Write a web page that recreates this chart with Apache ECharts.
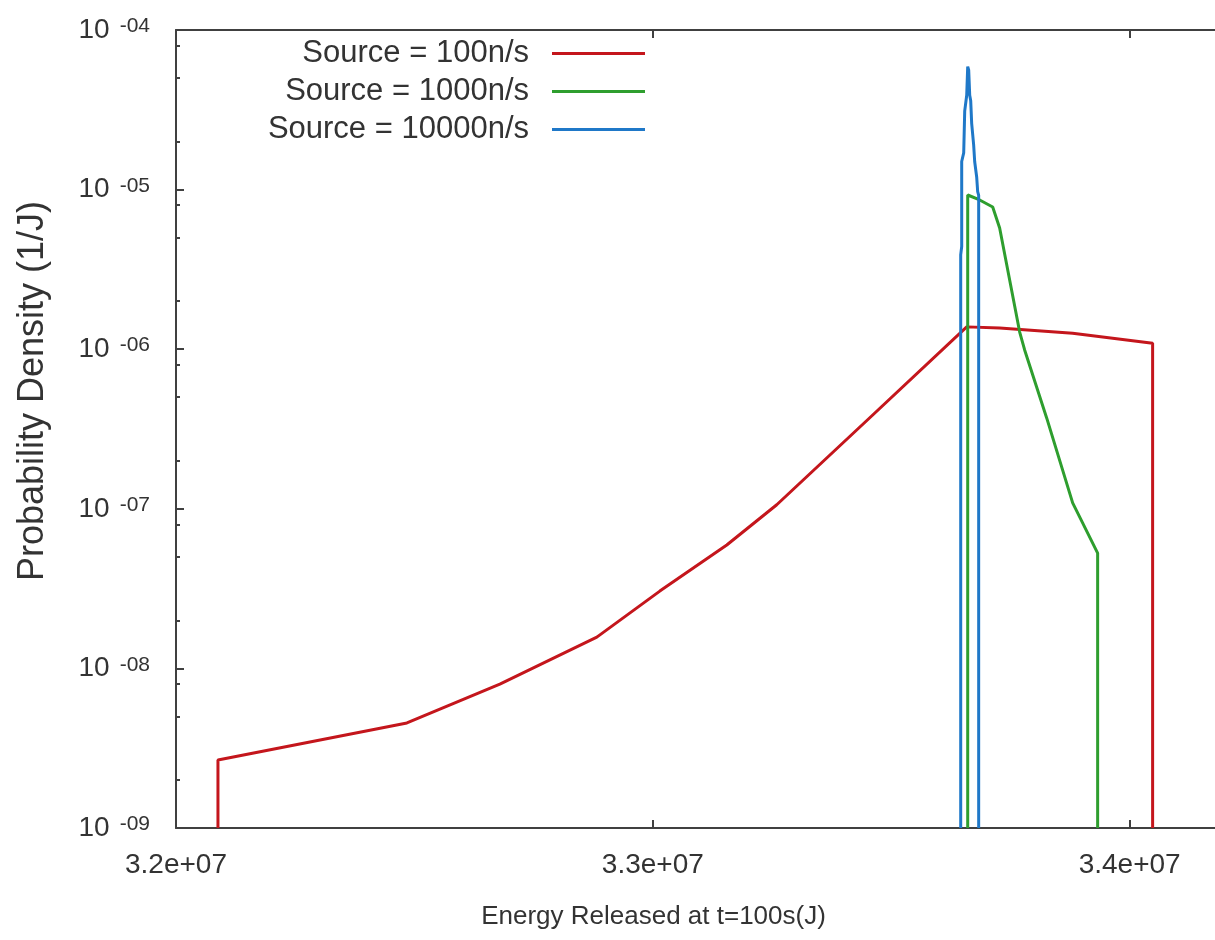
<!DOCTYPE html>
<html>
<head>
<meta charset="utf-8">
<script src="https://cdn.jsdelivr.net/npm/echarts@6/dist/echarts.min.js"></script>
<style>
  html, body { margin: 0; padding: 0; background: #ffffff; }
  #chart { width: 1215px; height: 940px; }
</style>
</head>
<body>
<div id="chart"></div>
<script>
// Probability density of the energy released at t = 100 s for three source strengths.
const seriesNames = ['Source = 100n/s', 'Source = 1000n/s', 'Source = 10000n/s'];

const energy100 = [3.2088e7, 3.2088e7, 3.24843e7, 3.26792e7, 3.28826e7, 3.30147e7, 3.31551e7, 3.32599e7, 3.34612e7, 3.36583e7, 3.37274e7, 3.38805e7, 3.40482e7, 3.40482e7];
const density100 = [1e-9, 2.67e-9, 4.55e-9, 7.98e-9, 1.57e-8, 3.05e-8, 5.93e-8, 1.06e-7, 3.87e-7, 1.38e-6, 1.36e-6, 1.26e-6, 1.09e-6, 1e-9];

const energy1000 = [3.36604e7, 3.36604e7, 3.36855e7, 3.37128e7, 3.37274e7, 3.37694e7, 3.37798e7, 3.3826e7, 3.38805e7, 3.39329e7, 3.39329e7];
const density1000 = [1e-9, 9.25e-6, 8.61e-6, 7.78e-6, 5.74e-6, 1.28e-6, 9.89e-7, 3.71e-7, 1.09e-7, 5.28e-8, 1e-9];

const energy10000 = [3.36457e7, 3.36457e7, 3.36478e7, 3.36478e7, 3.36520e7, 3.36541e7, 3.36583e7, 3.36604e7, 3.36625e7, 3.36646e7, 3.36667e7, 3.36687e7, 3.36729e7, 3.36750e7, 3.36792e7, 3.36813e7, 3.36834e7, 3.36834e7];
const density10000 = [1e-9, 3.9e-6, 4.4e-6, 1.5e-5, 1.7e-5, 3.1e-5, 3.9e-5, 5.9e-5, 5.6e-5, 3.9e-5, 3.6e-5, 2.6e-5, 1.9e-5, 1.5e-5, 1.2e-5, 9.7e-6, 9.2e-6, 1e-9];

const xMin = 3.2e7, xMax = 3.42e7, xStep = 1e6;
const yMin = 1e-9, yMax = 1e-4;
const minorMantissas = [2, 5, 8];

const colors = ['#c4161c', '#2e9e2e', '#1f78c8'];
const axisColor = '#404040';
const textColor = '#333333';
const fontFamily = "'Liberation Sans', Arial, sans-serif";

function pairs(xs, ys) { return xs.map((x, i) => [x, ys[i]]); }

// minor tick positions inside every decade of the log axis
const minorTicks = [];
for (let e = -9; e < -4; e++) {
  minorMantissas.forEach(m => minorTicks.push(m * Math.pow(10, e)));
}

function expLabel(v) {
  const e = Math.round(Math.log10(v));
  const s = (e < 0 ? '-' : '') + String(Math.abs(e)).padStart(2, '0');
  return '{b|10}{s|' + s + '}';
}
function sciLabel(v) {
  const e = Math.floor(Math.log10(v) + 1e-9);
  const m = (v / Math.pow(10, e)).toFixed(1);
  return m + 'e+' + String(e).padStart(2, '0');
}

const chart = echarts.init(document.getElementById('chart'), null, { renderer: 'canvas' });

const lineAxis = { show: true, lineStyle: { color: axisColor, width: 2 } };

const legendBase = {
  orient: 'vertical', align: 'right', icon: 'rect', itemWidth: 93, itemHeight: 3,
  padding: 0, right: 570, selectedMode: false,
  textStyle: { fontSize: 31, color: textColor, fontFamily: fontFamily, padding: [0, 18, 0, 0] }
};

chart.setOption({
  animation: false,
  backgroundColor: '#ffffff',
  color: colors,
  grid: { left: 176, top: 30, right: -10, bottom: 112, containLabel: false, outerBoundsMode: 'none' },
  legend: [
    Object.assign({}, legendBase, { data: [seriesNames[0]], top: 38 }),
    Object.assign({}, legendBase, { data: [seriesNames[1]], top: 76 }),
    Object.assign({}, legendBase, { data: [seriesNames[2]], top: 114 })
  ],
  xAxis: [
    {
      type: 'value', position: 'bottom', min: xMin, max: xMax, interval: xStep,
      axisLine: lineAxis,
      axisTick: { show: true, inside: true, length: 8, lineStyle: { color: axisColor, width: 2 } },
      axisLabel: { formatter: sciLabel, fontSize: 28, color: textColor, fontFamily: fontFamily, margin: 23 },
      splitLine: { show: false },
      name: 'Energy Released at t=100s(J)', nameLocation: 'middle', nameGap: 76,
      nameTextStyle: { fontSize: 26, color: textColor, fontFamily: fontFamily, padding: [0, 94, 0, 0] }
    },
    {
      type: 'value', position: 'top', min: xMin, max: xMax, interval: xStep,
      axisLine: lineAxis,
      axisTick: { show: true, inside: true, length: 8, lineStyle: { color: axisColor, width: 2 } },
      axisLabel: { show: false }, splitLine: { show: false }
    }
  ],
  yAxis: [
    {
      type: 'log', logBase: 10, position: 'left', min: yMin, max: yMax,
      axisLine: lineAxis,
      axisTick: { show: true, inside: true, length: 8, lineStyle: { color: axisColor, width: 2 } },
      axisLabel: {
        formatter: expLabel, margin: 26, color: textColor, fontFamily: fontFamily,
        rich: {
          b: { fontSize: 28, lineHeight: 28, color: textColor, fontFamily: fontFamily },
          s: { fontSize: 21, lineHeight: 19, verticalAlign: 'top', padding: [0, 0, 0, 10], color: textColor, fontFamily: fontFamily }
        }
      },
      splitLine: { show: false },
      name: 'Probability Density (1/J)', nameLocation: 'middle', nameGap: 125, nameRotate: 90,
      nameTextStyle: { fontSize: 36, color: textColor, fontFamily: fontFamily, padding: [0, 0, 0, 76] }
    },
    {
      type: 'log', logBase: 10, position: 'left', min: yMin, max: yMax,
      axisLine: { show: false },
      axisTick: { show: true, inside: true, length: 4, customValues: minorTicks, lineStyle: { color: axisColor, width: 2 } },
      axisLabel: { show: false }, splitLine: { show: false }
    },
    {
      type: 'log', logBase: 10, position: 'right', min: yMin, max: yMax,
      axisLine: lineAxis,
      axisTick: { show: true, inside: true, length: 8, lineStyle: { color: axisColor, width: 2 } },
      axisLabel: { show: false }, splitLine: { show: false }
    },
    {
      type: 'log', logBase: 10, position: 'right', min: yMin, max: yMax,
      axisLine: { show: false },
      axisTick: { show: true, inside: true, length: 4, customValues: minorTicks, lineStyle: { color: axisColor, width: 2 } },
      axisLabel: { show: false }, splitLine: { show: false }
    }
  ],
  series: [
    { name: seriesNames[0], type: 'line', symbol: 'none', data: pairs(energy100, density100), lineStyle: { width: 3, color: colors[0] }, itemStyle: { color: colors[0] } },
    { name: seriesNames[1], type: 'line', symbol: 'none', data: pairs(energy1000, density1000), lineStyle: { width: 3, color: colors[1] }, itemStyle: { color: colors[1] } },
    { name: seriesNames[2], type: 'line', symbol: 'none', data: pairs(energy10000, density10000), lineStyle: { width: 3, color: colors[2] }, itemStyle: { color: colors[2] } }
  ]
});
</script>
</body>
</html>
